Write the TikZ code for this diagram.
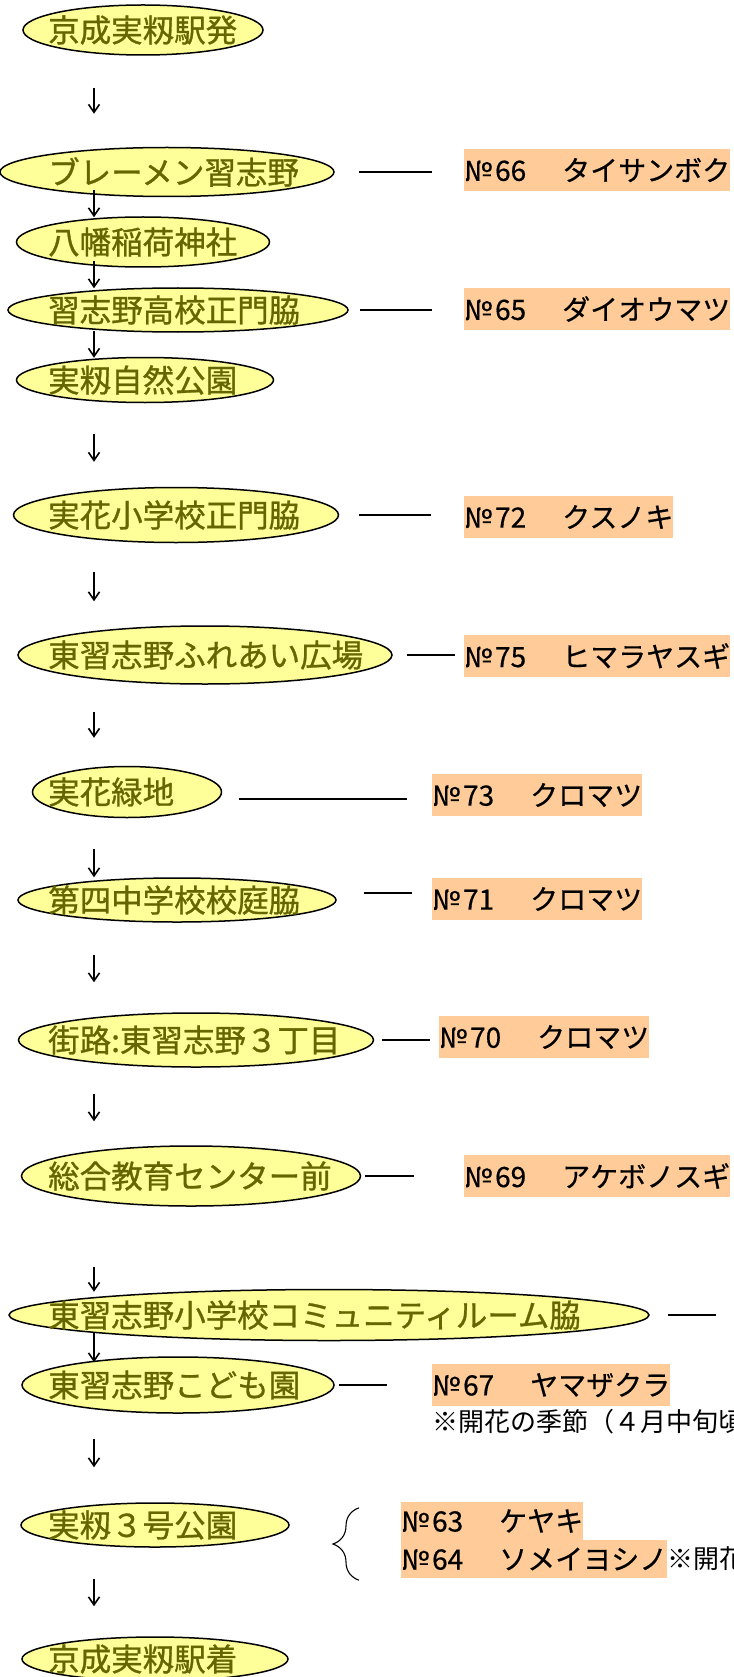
\documentclass[tikz,border=0pt]{standalone}
\usepackage{fontspec}
\newfontfamily\jpfont{Noto Sans CJK JP}
\newfontfamily\jpstop[FakeBold=0.9]{Noto Sans CJK JP}
\newfontfamily\jptree[FakeBold=0.5]{Noto Sans CJK JP}
\usetikzlibrary{shapes.geometric,arrows.meta,decorations.pathreplacing}

\definecolor{stopfill}{HTML}{FFFF99}
\definecolor{stopink}{HTML}{666600}
\definecolor{treefill}{HTML}{FFCC99}

% tree number, set as wide as in the leaflet
\newcommand\treeno[1]{\makebox[70pt][l]{№\kern3pt#1}}

\tikzset{
  stop/.style={ellipse,draw=black,line width=1.5pt,fill=stopfill,inner sep=0pt},
  stopname/.style={anchor=west,inner sep=0pt,text=stopink,font=\jpstop\fontsize{31.5}{32}\selectfont},
  tree/.style={anchor=west,inner sep=0pt,minimum height=42pt,fill=treefill,font=\jptree\fontsize{28}{28}\selectfont},
  note/.style={inner sep=0pt,font=\jpfont\fontsize{26}{26}\selectfont},
  flow/.style={line width=1.6pt,-{Straight Barb[length=8pt,width=11pt]}},
  link/.style={line width=1.3pt}
}

\begin{document}
\begin{tikzpicture}[x=1pt,y=-1pt]

    \useasboundingbox (0,0) rectangle (733,1677);
    \clip (0,0) rectangle (733,1677);

    \coordinate (textcol) at (48,0);
    \coordinate (arrowcol) at (94,0);

    %%%%%%%%%%%%%%%%%%% Stops %%%%%%%%%%%%%%%%%%%
    \node [stop,minimum width=240pt,minimum height=50pt] (start) at (143,30) {};
    \node [stop,minimum width=334pt,minimum height=49pt] (bremen) at (167,172) {};
    \node [stop,minimum width=253pt,minimum height=50pt] (hachiman) at (143,242) {};
    \node [stop,minimum width=340pt,minimum height=44pt] (koukou) at (178,310) {};
    \node [stop,minimum width=257pt,minimum height=45pt] (shizen) at (145,380) {};
    \node [stop,minimum width=325pt,minimum height=55pt] (mihana) at (176,515) {};
    \node [stop,minimum width=374pt,minimum height=58pt] (fureai) at (205,655) {};
    \node [stop,minimum width=189pt,minimum height=51pt] (ryokuchi) at (127,792) {};
    \node [stop,minimum width=318pt,minimum height=44pt] (daiyon) at (177,900) {};
    \node [stop,minimum width=355pt,minimum height=54pt] (gairo) at (196,1040) {};
    \node [stop,minimum width=339pt,minimum height=60pt] (sougou) at (191,1176) {};
    \node [stop,minimum width=640pt,minimum height=51pt] (community) at (329,1315) {};
    \node [stop,minimum width=312pt,minimum height=56pt] (kodomo) at (178,1385) {};
    \node [stop,minimum width=268pt,minimum height=44pt] (sango) at (155,1525) {};
    \node [stop,minimum width=266pt,minimum height=44pt] (goal) at (155,1659) {};

    % names
    \node [stopname] (start-t) at (start -| textcol) {京成実籾駅発};
    \node [stopname] (bremen-t) at (bremen -| textcol) {ブレーメン習志野};
    \node [stopname] (hachiman-t) at (hachiman -| textcol) {八幡稲荷神社};
    \node [stopname] (koukou-t) at (koukou -| textcol) {習志野高校正門脇};
    \node [stopname] (shizen-t) at (shizen -| textcol) {実籾自然公園};
    \node [stopname] (mihana-t) at (mihana -| textcol) {実花小学校正門脇};
    \node [stopname] (fureai-t) at (fureai -| textcol) {東習志野ふれあい広場};
    \node [stopname] (ryokuchi-t) at (ryokuchi -| textcol) {実花緑地};
    \node [stopname] (daiyon-t) at (daiyon -| textcol) {第四中学校校庭脇};
    \node [stopname] (gairo-t) at (gairo -| textcol) {街路:東習志野３丁目};
    \node [stopname] (sougou-t) at (sougou -| textcol) {総合教育センター前};
    \node [stopname] (community-t) at (community -| textcol) {東習志野小学校コミュニティルーム脇};
    \node [stopname] (kodomo-t) at (kodomo -| textcol) {東習志野こども園};
    \node [stopname] (sango-t) at (sango -| textcol) {実籾３号公園};
    \node [stopname] (goal-t) at (goal -| textcol) {京成実籾駅着};

    %%%%%%%%%%%%%%%%%%% Trees %%%%%%%%%%%%%%%%%%%
    \node [tree] (n66) at (464,170) {\treeno{66}　タイサンボク};
    \node [tree] (n65) at (464,309) {\treeno{65}　ダイオウマツ};
    \node [tree] (n72) at (464,517) {\treeno{72}　クスノキ};
    \node [tree] (n75) at (464,656) {\treeno{75}　ヒマラヤスギ};
    \node [tree] (n73) at (432,795) {\treeno{73}　クロマツ};
    \node [tree] (n71) at (432,899) {\treeno{71}　クロマツ};
    \node [tree] (n70) at (439,1037) {\treeno{70}　クロマツ};
    \node [tree] (n69) at (464,1176) {\treeno{69}　アケボノスギ};
    \node [tree] (n67) at (432,1385) {\treeno{67}　ヤマザクラ};
    \node [tree,minimum height=38pt] (n63) at (401,1521) {\treeno{63}　ケヤキ};
    \node [tree,minimum height=38pt] (n64) at (401,1559) {\treeno{64}　ソメイヨシノ};

    \node [note,anchor=north west] (n67-note) at ([yshift=-3pt]n67.south west) {※開花の季節（４月中旬頃）};
    \node [note,anchor=west] (n64-note) at (n64.east) {※開花の季節};

    %%%%%%%%%%%%%%%%%%% Arrows %%%%%%%%%%%%%%%%%%%
    \foreach \a/\b/\s/\e in {start/bremen/-32/33, bremen/hachiman/7/-1, hachiman/koukou/7/-1,
        koukou/shizen/2/-1, shizen/mihana/-31/25, mihana/fureai/-29/24, fureai/ryokuchi/-27/28,
        ryokuchi/daiyon/-31/0, daiyon/gairo/-32/30, gairo/sougou/-26/24, sougou/community/-60/-3,
        community/kodomo/8/-6, kodomo/sango/-25/35, sango/goal/-31/30}
        \draw [flow] ([yshift=\s pt]\a.south -| arrowcol) -- ([yshift=\e pt]\b.north -| arrowcol);

    %%%%%%%%%%%%%%%%%%% Links %%%%%%%%%%%%%%%%%%%
    \foreach \a/\b/\s/\e/\d in {bremen/n66/24/32/0, koukou/n65/11/32/0, mihana/n72/20/33/0,
        fureai/n75/14/9/0, ryokuchi/n73/17/25/-7, daiyon/n71/27/20/7, gairo/n70/8/9/0,
        sougou/n69/4/50/0, kodomo/n67/4/45/0}
        \draw [link,shorten <=\s pt,shorten >=\e pt] ([yshift=\d pt]\a.east) -- ([yshift=\d pt]\a.east -| \b.west);

    \coordinate (community-end) at (716,1315);
    \draw [link,shorten <=18pt] (community.east) -- (community-end);

    % brace
    \draw [decorate,decoration={brace,amplitude=26pt},line width=1.1pt]
        ([xshift=-42pt,yshift=-2pt]n64.south west) -- ([xshift=-42pt,yshift=-6pt]n63.north west);

\end{tikzpicture}
\end{document}
